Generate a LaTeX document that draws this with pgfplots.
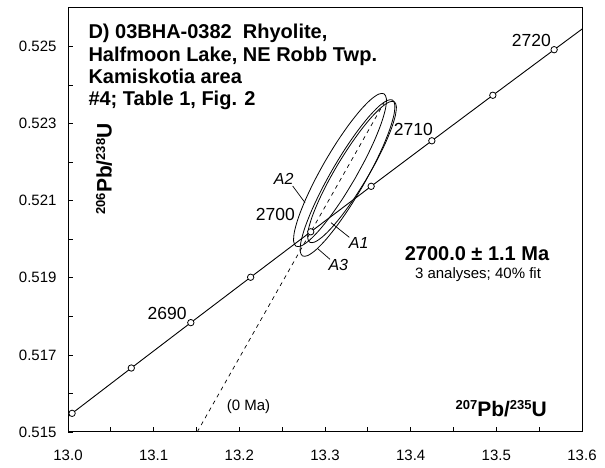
\documentclass[border=0pt]{standalone}
\usepackage{fontspec}
\setmainfont{Liberation Sans}
\usepackage{pgfplots}
\pgfplotsset{compat=1.18}
\newcommand{\supr}[1]{\raisebox{6.5pt}{\fontsize{13}{13}\selectfont #1}}
\begin{document}
\begin{tikzpicture}
\begin{axis}[
  scale only axis, width=514pt, height=424pt,
  xmin=13.0, xmax=13.6, ymin=0.515, ymax=0.526,
  xtick={13.0,13.1,13.2,13.3,13.4,13.5,13.6},
  minor xtick={13.05,13.15,13.25,13.35,13.45,13.55},
  ytick={0.515,0.517,0.519,0.521,0.523,0.525},
  minor ytick={0.516,0.518,0.520,0.522,0.524},
  xtick pos=bottom, ytick pos=left, tick align=inside,
  major tick length=4.5pt, minor tick length=4.5pt,
  every tick/.style={black, line width=0.8pt},
  axis line style={line width=1pt},
  scaled ticks=false,
  xticklabel={\pgfmathprintnumber[fixed,fixed zerofill,precision=1,assume math mode=true]{\tick}},
  yticklabel={\pgfmathprintnumber[fixed,fixed zerofill,precision=3,assume math mode=true]{\tick}},
  xticklabel style={yshift=-14pt},
  yticklabel style={xshift=-8pt},
  tick label style={font=\fontsize{15}{15}\selectfont},
]
% error ellipses (A2, A1, A3)
\addplot[black, line width=0.8pt, smooth] coordinates {
(13.33495,0.521573) (13.32106,0.521069) (13.30693,0.520615) (13.29352,0.520241)
(13.28175,0.519973) (13.27241,0.519829) (13.26615,0.519820) (13.26339,0.519945)
(13.26431,0.520197) (13.26886,0.520557) (13.27673,0.521002) (13.28738,0.521502)
(13.30007,0.522021) (13.31396,0.522525) (13.32809,0.522979) (13.34150,0.523353)
(13.35327,0.523621) (13.36261,0.523765) (13.36887,0.523774) (13.37163,0.523649)
(13.37071,0.523397) (13.36616,0.523037) (13.35829,0.522592) (13.34765,0.522093)
(13.33495,0.521573)};
\addplot[black, line width=0.8pt, smooth] coordinates {
(13.34753,0.521531) (13.33423,0.521067) (13.32074,0.520648) (13.30798,0.520304)
(13.29684,0.520059) (13.28805,0.519928) (13.28223,0.519922) (13.27976,0.520039)
(13.28083,0.520273) (13.28534,0.520607) (13.29301,0.521018) (13.30330,0.521480)
(13.31551,0.521959) (13.32882,0.522423) (13.34231,0.522842) (13.35506,0.523186)
(13.36621,0.523431) (13.37499,0.523562) (13.38082,0.523569) (13.38328,0.523451)
(13.38221,0.523217) (13.37770,0.522883) (13.37003,0.522472) (13.35974,0.522010)
(13.34753,0.521531)};
\addplot[black, line width=0.8pt, smooth] coordinates {
(13.34371,0.521366) (13.32952,0.520850) (13.31511,0.520385) (13.30146,0.520002)
(13.28950,0.519727) (13.28005,0.519579) (13.27374,0.519568) (13.27102,0.519694)
(13.27206,0.519950) (13.27680,0.520318) (13.28491,0.520772) (13.29583,0.521282)
(13.30883,0.521813) (13.32302,0.522329) (13.33743,0.522794) (13.35108,0.523177)
(13.36304,0.523453) (13.37249,0.523601) (13.37880,0.523612) (13.38152,0.523485)
(13.38048,0.523229) (13.37574,0.522861) (13.36764,0.522407) (13.35671,0.521897)
(13.34371,0.521366)};
% discordia to 0 Ma
\addplot[black, line width=0.7pt, dash pattern=on 4pt off 4pt] coordinates {(13.1508,0.515) (13.3690,0.523541)};
% concordia
\addplot[black, line width=0.9pt] coordinates {
(12.99098,0.515249) (13.00477,0.515484) (13.07390,0.516660) (13.14337,0.517837)
(13.21319,0.519015) (13.28335,0.520194) (13.35386,0.521374) (13.42472,0.522555)
(13.49592,0.523736) (13.56748,0.524918) (13.63939,0.526101)};
\addplot[only marks, mark=*, mark size=3.2pt, mark options={fill=white, draw=black, line width=0.8pt}] coordinates {
(13.00477,0.515484) (13.07390,0.516660) (13.14337,0.517837) (13.21319,0.519015)
(13.28335,0.520194) (13.35386,0.521374) (13.42472,0.522555) (13.49592,0.523736)
(13.56748,0.524918)};
% leaders
\addplot[black, line width=0.7pt] coordinates {(13.26229,0.521382) (13.27665,0.520949)};
\addplot[black, line width=0.7pt] coordinates {(13.30700,0.520430) (13.32837,0.520051)};
\addplot[black, line width=0.7pt] coordinates {(13.29101,0.519766) (13.30584,0.519480)};
% age labels
\node[anchor=base east, inner sep=0pt, font=\fontsize{17.5}{17.5}\selectfont] at (axis cs:13.13856,0.517906) {2690};
\node[anchor=base east, inner sep=0pt, font=\fontsize{17.5}{17.5}\selectfont] at (axis cs:13.26498,0.520482) {2700};
\node[anchor=base east, inner sep=0pt, font=\fontsize{17.5}{17.5}\selectfont] at (axis cs:13.42607,0.522705) {2710};
\node[anchor=base east, inner sep=0pt, font=\fontsize{17.5}{17.5}\selectfont] at (axis cs:13.56381,0.524996) {2720};
% analysis labels
\node[inner sep=0pt, font=\fontsize{16}{16}\selectfont\itshape] at (axis cs:13.25179,0.521556) {A2};
\node[inner sep=0pt, font=\fontsize{16}{16}\selectfont\itshape] at (axis cs:13.33933,0.519908) {A1};
\node[inner sep=0pt, font=\fontsize{16}{16}\selectfont\itshape] at (axis cs:13.31553,0.519340) {A3};
% title
\node[anchor=base west, inner sep=0pt, font=\fontsize{20}{20}\selectfont\bfseries] at (axis cs:13.0237,0.525196) {D) 03BHA-0382\ \ Rhyolite,};
\node[anchor=base west, inner sep=0pt, font=\fontsize{20}{20}\selectfont\bfseries] at (axis cs:13.0237,0.524620) {Halfmoon Lake, NE Robb Twp.};
\node[anchor=base west, inner sep=0pt, font=\fontsize{20}{20}\selectfont\bfseries] at (axis cs:13.0237,0.524044) {Kamiskotia area};
\node[anchor=base west, inner sep=0pt, font=\fontsize{20}{20}\selectfont\bfseries] at (axis cs:13.0237,0.523468) {\#4; Table 1, Fig. 2};
% result
\node[anchor=base, inner sep=0pt, font=\fontsize{20}{20}\selectfont\bfseries] at (axis cs:13.47743,0.519462) {2700.0 ± 1.1 Ma};
\node[anchor=base, inner sep=0pt, font=\fontsize{15}{15}\selectfont] at (axis cs:13.47860,0.518987) {3 analyses; 40\% fit};
\node[anchor=base west, inner sep=0pt, font=\fontsize{15}{15}\selectfont] at (axis cs:13.18525,0.515545) {(0 Ma)};
% axis labels
\node[anchor=base east, inner sep=0pt, font=\fontsize{21}{21}\selectfont\bfseries] at (axis cs:13.55914,0.515415) {\supr{207}Pb/\supr{235}U};
\node[rotate=90, inner sep=0pt, font=\fontsize{21}{21}\selectfont\bfseries] at (axis cs:13.04202,0.521823) {\supr{206}Pb/\supr{238}U};
\end{axis}
\path ([xshift=-68pt,yshift=-36pt]current axis.south west) rectangle ([xshift=23pt,yshift=8pt]current axis.north east);
\end{tikzpicture}
\end{document}
